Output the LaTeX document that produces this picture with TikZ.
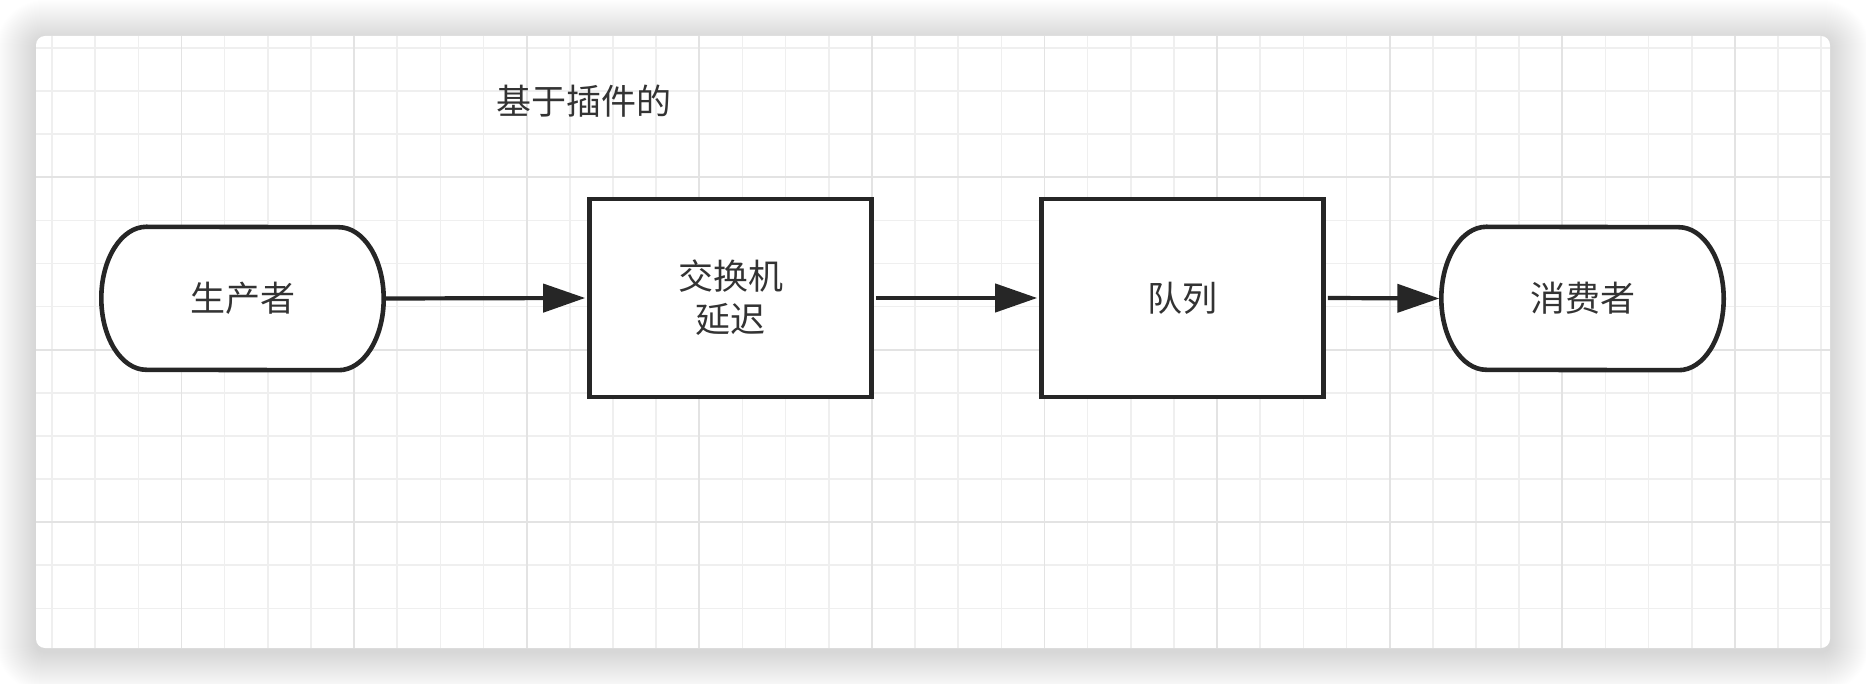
\documentclass[tikz,border=0pt]{standalone}
\usepackage{fontspec}
\newfontfamily\cjk{Noto Sans CJK SC}
\usetikzlibrary{arrows.meta}
\definecolor{strokec}{HTML}{262626}
\definecolor{textc}{HTML}{333333}
\definecolor{gridminor}{HTML}{EFEFEF}
\definecolor{gridmajor}{HTML}{E3E3E3}
\tikzset{
  boxnode/.style={draw=strokec, line width=4.6pt, fill=white, minimum width=282pt, minimum height=198pt, inner sep=0pt, align=center, text=textc, font=\cjk\fontsize{35}{43}\selectfont},
  termnode/.style={draw=none, minimum width=282pt, minimum height=143pt, inner sep=0pt, align=center, text=textc, font=\cjk\fontsize{35}{43}\selectfont},
  termborder/.style={draw=strokec, line width=4.6pt, fill=white},
  conn/.style={draw=strokec, line width=4.2pt, -{Triangle[length=42pt,width=28pt]}},
  labelnode/.style={inner sep=0pt, text=textc, font=\cjk\fontsize{35}{43}\selectfont}
}
\begin{document}
\begin{tikzpicture}[x=1pt,y=1pt]
\useasboundingbox (0,0) rectangle (1866,-684);
\fill[white] (0,0) rectangle (1866,-684);
% soft shadow round the card
\foreach \e in {1,...,40} {
  \fill[black, opacity=0.0042, rounded corners={9pt+\e pt}] (36-\e,-36-4+\e) rectangle (1830+\e,-648-4-\e);
}
\fill[white, rounded corners=9pt] (36,-36) rectangle (1830,-648);
\begin{scope}
\clip[rounded corners=9pt] (36,-36) rectangle (1830,-648);
\foreach \k in {0,...,41} {
  \pgfmathsetmacro\xx{52+43.15*\k}
  \draw[gridminor, line width=1.6pt] (\xx,-36) -- (\xx,-648);
}
\foreach \k in {0,...,13} {
  \pgfmathsetmacro\yy{48+43.1*\k}
  \draw[gridminor, line width=1.6pt] (36,-\yy) -- (1830,-\yy);
}
\foreach \k in {3,7,...,39} {
  \pgfmathsetmacro\xx{52+43.15*\k}
  \draw[gridmajor, line width=1.8pt] (\xx,-36) -- (\xx,-648);
}
\foreach \k in {3,7,11} {
  \pgfmathsetmacro\yy{48+43.1*\k}
  \draw[gridmajor, line width=1.8pt] (36,-\yy) -- (1830,-\yy);
}
\end{scope}
% label
\node[labelnode] (title) at (584,-101) {基于插件的};
% producer
\node[termnode] (prod) at (242.5,-298.5) {};
\path[termborder] ([xshift=45pt]prod.north west) arc[start angle=90, end angle=270, x radius=45pt, y radius=71.5pt] -- ([xshift=-45pt]prod.south east) arc[start angle=-90, end angle=90, x radius=45pt, y radius=71.5pt] -- cycle;
\node[termnode] at (prod.center) {生产者};
% boxes
\node[boxnode] (exch) at (730.5,-298) {交换机\\延迟};
\node[boxnode] (queue) at (1182.5,-298) {队列};
% consumer
\node[termnode] (cons) at (1582.5,-298.5) {};
\path[termborder] ([xshift=45pt]cons.north west) arc[start angle=90, end angle=270, x radius=45pt, y radius=71.5pt] -- ([xshift=-45pt]cons.south east) arc[start angle=-90, end angle=90, x radius=45pt, y radius=71.5pt] -- cycle;
\node[termnode] at (cons.center) {消费者};
% connectors
\draw[conn] ([xshift=2pt]prod.east) -- ([xshift=-2pt]exch.west);
\draw[conn] ([xshift=2pt]exch.east) -- ([xshift=-2pt]queue.west);
\draw[conn] ([xshift=2pt]queue.east) -- ([xshift=-2pt]cons.west);
\end{tikzpicture}
\end{document}
